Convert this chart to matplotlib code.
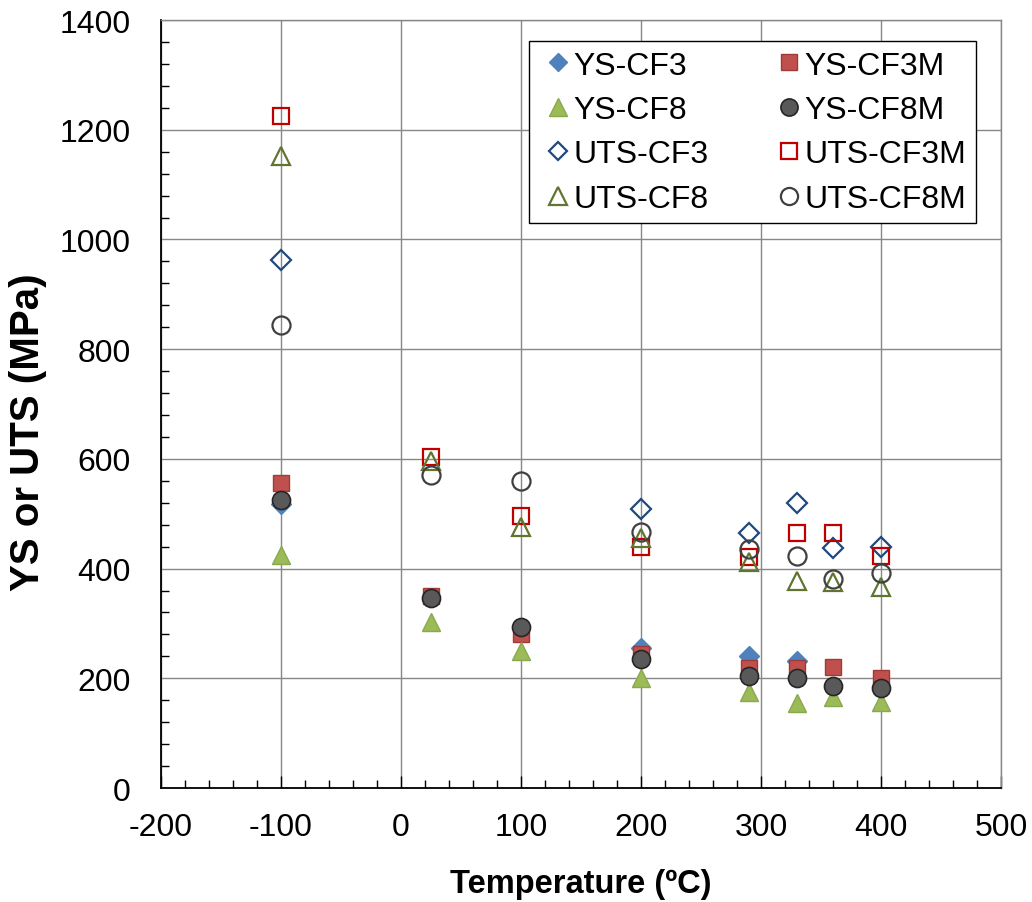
import matplotlib
matplotlib.use("Agg")
import matplotlib.pyplot as plt
from matplotlib.ticker import MultipleLocator

plt.rcParams['font.family'] = ['Liberation Sans', 'DejaVu Sans']
plt.rcParams['axes.unicode_minus'] = False

# Yield strength (YS) and ultimate tensile strength (UTS), MPa, vs. test temperature (°C)
ys_cf3_t = [-100, 200, 290, 330]
ys_cf3 = [518, 255, 241, 231]

ys_cf3m_t = [-100, 25, 100, 200, 290, 330, 360, 400]
ys_cf3m = [556, 350, 281, 244, 219, 219, 221, 200]

ys_cf8_t = [-100, 25, 100, 200, 290, 330, 360, 400]
ys_cf8 = [425, 303, 250, 201, 175, 155, 166, 156]

ys_cf8m_t = [-100, 25, 100, 200, 290, 330, 360, 400]
ys_cf8m = [525, 346, 294, 235, 204, 201, 186, 182]

uts_cf3_t = [-100, 200, 290, 330, 360, 400]
uts_cf3 = [963, 509, 465, 520, 437, 440]

uts_cf3m_t = [-100, 25, 100, 200, 290, 330, 360, 400]
uts_cf3m = [1225, 603, 496, 439, 421, 465, 465, 423]

uts_cf8_t = [-100, 25, 100, 200, 290, 330, 360, 400]
uts_cf8 = [1152, 597, 476, 455, 412, 378, 375, 366]

uts_cf8m_t = [-100, 25, 100, 200, 290, 330, 360, 400]
uts_cf8m = [844, 571, 560, 467, 436, 423, 381, 392]

fig = plt.figure(figsize=(10.32, 9.03), dpi=100)
ax = fig.add_axes([0.156, 0.1262, 0.814, 0.8505])

series = [
    ("YS-CF3", ys_cf3_t, ys_cf3, dict(marker='D', ms=10, mfc='#4F81BD', mec='#4F81BD', mew=1.0)),
    ("YS-CF3M", ys_cf3m_t, ys_cf3m, dict(marker='s', ms=12, mfc='#C0504D', mec='#A03A37', mew=1.0)),
    ("YS-CF8", ys_cf8_t, ys_cf8, dict(marker='^', ms=13, mfc='#9BBB59', mec='#8AA84C', mew=1.0)),
    ("YS-CF8M", ys_cf8m_t, ys_cf8m, dict(marker='o', ms=13, mfc='#595959', mec='#262626', mew=1.2)),
    ("UTS-CF3", uts_cf3_t, uts_cf3, dict(marker='D', ms=10, mfc='none', mec='#1F497D', mew=1.6)),
    ("UTS-CF3M", uts_cf3m_t, uts_cf3m, dict(marker='s', ms=12, mfc='none', mec='#C00000', mew=1.6)),
    ("UTS-CF8", uts_cf8_t, uts_cf8, dict(marker='^', ms=13, mfc='none', mec='#5F7530', mew=1.6)),
    ("UTS-CF8M", uts_cf8m_t, uts_cf8m, dict(marker='o', ms=13, mfc='none', mec='#404040', mew=1.6)),
]

handles = {}
for i, (label, xs, ys, style) in enumerate(series):
    h, = ax.plot(xs, ys, linestyle='none', label=label, zorder=3 + i, clip_on=False, **style)
    handles[label] = h

ax.set_xlim(-200, 500)
ax.set_ylim(0, 1400)
ax.xaxis.set_major_locator(MultipleLocator(100))
ax.xaxis.set_minor_locator(MultipleLocator(20))
ax.yaxis.set_major_locator(MultipleLocator(200))
ax.yaxis.set_minor_locator(MultipleLocator(40))

ax.grid(True, which='major', color='#878787', linewidth=1.0)
ax.set_axisbelow(True)

for side in ('top', 'right'):
    ax.spines[side].set_color('#878787')
    ax.spines[side].set_linewidth(1.0)
for side in ('left', 'bottom'):
    ax.spines[side].set_color('black')
    ax.spines[side].set_linewidth(1.3)

ax.tick_params(axis='both', which='both', direction='in', colors='black', labelsize=23)
ax.tick_params(axis='x', which='major', length=9, width=1.0, pad=17)
ax.tick_params(axis='x', which='minor', length=6, width=1.0)
ax.tick_params(axis='y', which='major', length=0, pad=22)
ax.tick_params(axis='y', which='minor', length=6, width=1.0)
ax.tick_params(top=False, right=False, which='both')

ax.set_xlabel("Temperature (ºC)", fontsize=23.5, fontweight='bold', labelpad=19)
ax.set_ylabel("YS or UTS (MPa)", fontsize=29, fontweight='bold')
ax.yaxis.set_label_coords(-0.158, 0.465)
ax.yaxis.label.set_verticalalignment('center')

order = ["YS-CF3", "YS-CF8", "UTS-CF3", "UTS-CF8",
         "YS-CF3M", "YS-CF8M", "UTS-CF3M", "UTS-CF8M"]
leg = ax.legend([handles[k] for k in order], order, ncol=2, loc='upper right',
                bbox_to_anchor=(0.970, 0.9727), fontsize=23, frameon=True,
                fancybox=False, edgecolor='black', framealpha=1.0,
                handlelength=1.2, handletextpad=-0.1, columnspacing=1.9,
                labelspacing=0.45, borderpad=0.3, borderaxespad=0.0,
                markerscale=0.95)
leg.get_frame().set_linewidth(1.0)
leg.set_zorder(20)

fig.savefig("out.png", dpi=100, facecolor='white')
